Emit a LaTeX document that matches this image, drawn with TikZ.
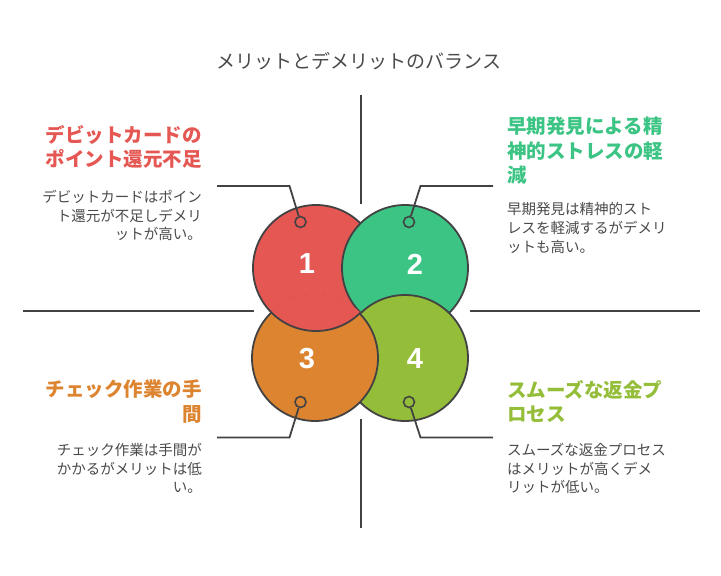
\documentclass[tikz,border=0pt]{standalone}
\usepackage{fontspec}
\setmainfont{Noto Sans CJK JP}
\newfontfamily\numfont{Liberation Sans}
\usepackage{tikz}

\definecolor{cRed}{HTML}{E55753}
\definecolor{cGreen}{HTML}{3CC484}
\definecolor{cOrange}{HTML}{DD8430}
\definecolor{cLime}{HTML}{94BD3A}
\definecolor{lineGray}{HTML}{424242}
\definecolor{textGray}{HTML}{4A4A4A}

\begin{document}
\begin{tikzpicture}[
        x=1pt, y=-1pt,
        disc/.style={circle, draw=lineGray, line width=1.8pt, minimum size=126pt, inner sep=0pt},
        num/.style={text=white, font=\numfont\bfseries\fontsize{29}{29}\selectfont},
        dot/.style={circle, draw=lineGray, line width=1.6pt, minimum size=11pt, inner sep=0pt},
        leader/.style={lineGray, line width=1.8pt},
        head/.style={inner sep=0pt, font=\bfseries\fontsize{19.5}{24.5}\selectfont},
        desc/.style={inner sep=0pt, text=textGray, font=\fontsize{14.5}{18.7}\selectfont}
    ]
        \useasboundingbox (0,0) rectangle (721,576);

        % --- Titulo ---
        \node[text=textGray, font=\fontsize{19}{22}\selectfont] (title) at (359,61) {メリットとデメリットのバランス};

        % --- Lineas divisorias ---
        \coordinate (vt1) at (361,95);
        \coordinate (vt2) at (361,204);
        \coordinate (vb1) at (361,419);
        \coordinate (vb2) at (361,528);
        \coordinate (hl1) at (23,311);
        \coordinate (hl2) at (254,311);
        \coordinate (hr1) at (470,311);
        \coordinate (hr2) at (700,311);
        \draw[leader] (vt1) -- (vt2);
        \draw[leader] (vb1) -- (vb2);
        \draw[leader] (hl1) -- (hl2);
        \draw[leader] (hr1) -- (hr2);

        % --- Circulos entrelazados ---
        \node[disc, fill=cRed] (c1) at (316,268) {};
        \node[disc, fill=cGreen] (c2) at (405,268) {};
        \node[disc, fill=cLime] (c4) at (405,358) {};
        \node[disc, fill=cOrange] (c3) at (315,358) {};
        % el rojo queda encima del naranja
        \begin{scope}
            \clip (c3.center) circle (64.2);
            \node[disc, fill=cRed] (c1top) at (c1.center) {};
        \end{scope}

        % Numeros
        \node[num] (n1) at (307,264) {1};
        \node[num] (n2) at (415,264) {2};
        \node[num] (n3) at (307,359) {3};
        \node[num] (n4) at (415,359) {4};

        % --- Lineas guia ---
        \node[dot] (d1) at (300.5,222) {};
        \node[dot] (d2) at (409,222) {};
        \node[dot] (d3) at (300.5,402) {};
        \node[dot] (d4) at (409,402) {};
        \coordinate (e1) at (289.5,186);
        \coordinate (e2) at (420.5,186);
        \coordinate (e3) at (289.5,437.5);
        \coordinate (e4) at (420.5,437.5);
        \coordinate (t1) at (217,186);
        \coordinate (t2) at (493,186);
        \coordinate (t3) at (217,437.5);
        \coordinate (t4) at (493,437.5);
        \draw[leader] (d1) -- (e1) -- (t1);
        \draw[leader] (d2) -- (e2) -- (t2);
        \draw[leader] (d3) -- (e3) -- (t3);
        \draw[leader] (d4) -- (e4) -- (t4);

        % --- Textos ---
        \node[head, text=cRed, anchor=north east, align=right] (h1) at (202,125) {デビットカードの\\ポイント還元不足};
        \node[desc, anchor=north east, align=right] (p1) at (202,190) {デビットカードはポイン\\ト還元が不足しデメリ\\ットが高い。};

        \node[head, text=cGreen, anchor=north west, align=left] (h2) at (507,117) {早期発見による精\\神的ストレスの軽\\減};
        \node[desc, anchor=north west, align=left] (p2) at (507,202.5) {早期発見は精神的スト\\レスを軽減するがデメリ\\ットも高い。};

        \node[head, text=cOrange, anchor=north east, align=right] (h3) at (202,380) {チェック作業の手\\間};
        \node[desc, anchor=north east, align=right] (p3) at (202,443) {チェック作業は手間が\\かかるがメリットは低\\い。};

        \node[head, text=cLime, anchor=north west, align=left] (h4) at (507,380) {スムーズな返金プ\\ロセス};
        \node[desc, anchor=north west, align=left] (p4) at (507,443) {スムーズな返金プロセス\\はメリットが高くデメ\\リットが低い。};

    \end{tikzpicture}
\end{document}
